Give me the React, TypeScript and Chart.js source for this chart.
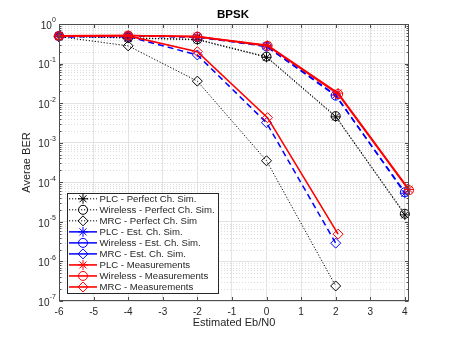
import React, { useEffect, useRef } from 'react';
import { Chart, registerables } from 'chart.js';

Chart.register(...registerables);

// ---- data ----
const snrSim = [-6, -4, -2, 0, 2, 4];
const snrMeas = [-6, -4, -2, 0.03, 2.07, 4.12];
const snrMrcSim = [-6, -4, -2, 0, 2];
const snrMrcMeas = [-6, -4, -2, 0.03, 2.07];

const plcPerfect = [0.49, 0.44, 0.4, 0.144, 0.0045, 1.5e-5];
const wirelessPerfect = [0.49, 0.45, 0.41, 0.15, 0.0047, 1.6e-5];
const mrcPerfect = [0.48, 0.28, 0.036, 3.5e-4, 2.4e-7];
const plcEst = [0.5, 0.5, 0.47, 0.28, 0.016, 5.3e-5];
const wirelessEst = [0.5, 0.5, 0.47, 0.27, 0.0155, 5.6e-5];
const mrcEst = [0.47, 0.48, 0.165, 3.2e-3, 2.9e-6];
const plcMeas = [0.5, 0.51, 0.48, 0.29, 0.018, 6.6e-5];
const wirelessMeas = [0.5, 0.51, 0.48, 0.28, 0.017, 6.3e-5];
const mrcMeas = [0.5, 0.5, 0.2, 4.3e-3, 4.9e-6];

const xTickValues = [-6, -5, -4, -3, -2, -1, 0, 1, 2, 3, 4];
const yTickExponents = [0, -1, -2, -3, -4, -5, -6, -7];

const labels = [
  'PLC - Perfect Ch. Sim.',
  'Wireless - Perfect Ch. Sim.',
  'MRC - Perfect Ch. Sim',
  'PLC - Est. Ch. Sim.',
  'Wireless - Est. Ch. Sim.',
  'MRC - Est. Ch. Sim.',
  'PLC - Measurements',
  'Wireless - Measurements',
  'MRC - Measurements',
];

const FONT = '"Liberation Sans", Arial, Helvetica, sans-serif';
const TEXT = '#262626';

type Style = { color: string; width: number; dash: number[]; marker: string; legendDash: number[] };
const BLACK: Omit<Style, 'marker'> = { color: '#000000', width: 1, dash: [1.2, 1.8], legendDash: [1.2, 1.8] };
const BLUE: Omit<Style, 'marker'> = { color: '#0000ff', width: 1.5, dash: [6, 4], legendDash: [] };
const RED: Omit<Style, 'marker'> = { color: '#ff0000', width: 1.6, dash: [], legendDash: [] };

const styles: Style[] = [
  { ...BLACK, marker: 'star' },
  { ...BLACK, marker: 'circle' },
  { ...BLACK, marker: 'diamond' },
  { ...BLUE, marker: 'star' },
  { ...BLUE, marker: 'circle' },
  { ...BLUE, marker: 'diamond' },
  { ...RED, marker: 'star' },
  { ...RED, marker: 'circle' },
  { ...RED, marker: 'diamond' },
];

const series: { xs: number[]; ys: number[]; order: number }[] = [
  { xs: snrSim, ys: plcPerfect, order: 2 },
  { xs: snrSim, ys: wirelessPerfect, order: 2 },
  { xs: snrMrcSim, ys: mrcPerfect, order: 2 },
  { xs: snrSim, ys: plcEst, order: 1 },
  { xs: snrSim, ys: wirelessEst, order: 1 },
  { xs: snrMrcSim, ys: mrcEst, order: 1 },
  { xs: snrMeas, ys: plcMeas, order: 0 },
  { xs: snrMeas, ys: wirelessMeas, order: 0 },
  { xs: snrMrcMeas, ys: mrcMeas, order: 0 },
];

const chartPointStyle = (m: string) => (m === 'diamond' ? 'rectRot' : m);
const markerRadius = (m: string) => (m === 'star' ? 5 : m === 'circle' ? 4.5 : 5);

function drawMarker(ctx: CanvasRenderingContext2D, m: string, x: number, y: number, color: string) {
  const r = markerRadius(m);
  ctx.save();
  ctx.setLineDash([]);
  ctx.strokeStyle = color;
  ctx.lineWidth = 1;
  ctx.beginPath();
  if (m === 'circle') {
    ctx.arc(x, y, r, 0, Math.PI * 2);
  } else if (m === 'diamond') {
    ctx.moveTo(x, y - r);
    ctx.lineTo(x + r, y);
    ctx.lineTo(x, y + r);
    ctx.lineTo(x - r, y);
    ctx.closePath();
  } else {
    for (let i = 0; i < 4; i++) {
      const a = (i * Math.PI) / 4;
      ctx.moveTo(x - r * Math.cos(a), y - r * Math.sin(a));
      ctx.lineTo(x + r * Math.cos(a), y + r * Math.sin(a));
    }
  }
  ctx.stroke();
  ctx.restore();
}

const decorPlugin = {
  id: 'decor',
  beforeDatasetsDraw(chart: any) {
    const { ctx, chartArea: a, scales } = chart;
    const y = scales.y;
    ctx.save();
    ctx.strokeStyle = '#dcdcdc';
    ctx.lineWidth = 1;
    ctx.setLineDash([1, 2]);
    for (let k = -7; k < 0; k++) {
      for (let m = 2; m <= 9; m++) {
        const py = Math.round(y.getPixelForValue(m * Math.pow(10, k))) + 0.5;
        ctx.beginPath();
        ctx.moveTo(a.left, py);
        ctx.lineTo(a.right, py);
        ctx.stroke();
      }
    }
    ctx.restore();
  },
  afterDatasetsDraw(chart: any) {
    const { ctx, chartArea: a, scales } = chart;
    const x = scales.x;
    const y = scales.y;
    ctx.save();
    // box
    ctx.strokeStyle = '#4d4d4d';
    ctx.lineWidth = 1;
    ctx.setLineDash([]);
    const L = Math.round(a.left) + 0.5;
    const R = Math.round(a.right) - 0.5;
    const T = Math.round(a.top) + 0.5;
    const B = Math.round(a.bottom) - 0.5;
    ctx.strokeRect(L, T, R - L, B - T);
    // tick marks
    ctx.beginPath();
    for (const v of xTickValues) {
      const px = Math.round(x.getPixelForValue(v)) + 0.5;
      ctx.moveTo(px, B);
      ctx.lineTo(px, B - 3.5);
      ctx.moveTo(px, T);
      ctx.lineTo(px, T + 3.5);
    }
    for (const e of yTickExponents) {
      const py = Math.round(y.getPixelForValue(Math.pow(10, e))) + 0.5;
      ctx.moveTo(L, py);
      ctx.lineTo(L + 3.5, py);
      ctx.moveTo(R, py);
      ctx.lineTo(R - 3.5, py);
    }
    for (let k = -7; k < 0; k++) {
      for (let m = 2; m <= 9; m++) {
        const py = Math.round(y.getPixelForValue(m * Math.pow(10, k))) + 0.5;
        ctx.moveTo(L, py);
        ctx.lineTo(L + 2, py);
        ctx.moveTo(R, py);
        ctx.lineTo(R - 2, py);
      }
    }
    ctx.stroke();

    // y tick labels: 10 with raised exponent
    ctx.fillStyle = TEXT;
    ctx.textAlign = 'right';
    ctx.textBaseline = 'middle';
    for (const e of yTickExponents) {
      const py = y.getPixelForValue(Math.pow(10, e));
      const expStr = String(e);
      ctx.font = `7px ${FONT}`;
      const ew = ctx.measureText(expStr).width;
      ctx.fillText(expStr, 56, py - 3.5);
      ctx.font = `10px ${FONT}`;
      ctx.fillText('10', 56 - ew - 0.3, py + 2);
    }

    // legend
    const lx0 = 67.5, ly0 = 193.5, lx1 = 218.5, ly1 = 293.5;
    ctx.fillStyle = '#ffffff';
    ctx.fillRect(lx0, ly0, lx1 - lx0, ly1 - ly0);
    ctx.strokeStyle = '#262626';
    ctx.lineWidth = 1;
    ctx.strokeRect(lx0, ly0, lx1 - lx0, ly1 - ly0);
    ctx.font = `9.6px ${FONT}`;
    ctx.textBaseline = 'middle';
    ctx.textAlign = 'left';
    labels.forEach((lab, i) => {
      const st = styles[i];
      const cy = 198.8 + i * 11.02;
      ctx.save();
      ctx.strokeStyle = st.color;
      ctx.lineWidth = st.width;
      ctx.setLineDash(st.legendDash);
      ctx.beginPath();
      ctx.moveTo(69, cy);
      ctx.lineTo(97, cy);
      ctx.stroke();
      ctx.restore();
      drawMarker(ctx, st.marker, 83, cy, st.color);
      ctx.fillStyle = TEXT;
      ctx.fillText(lab, 99.5, cy + 0.5);
    });

    // titles
    ctx.textAlign = 'center';
    ctx.textBaseline = 'middle';
    const cx = (a.left + a.right) / 2;
    ctx.font = `bold 11.5px ${FONT}`;
    ctx.fillStyle = '#000000';
    ctx.fillText('BPSK', cx - 1, 14.5);
    ctx.fillStyle = TEXT;
    ctx.font = `11px ${FONT}`;
    ctx.fillText('Estimated Eb/N0', cx, 322.5);
    ctx.save();
    ctx.translate(26.5, (a.top + a.bottom) / 2);
    ctx.rotate(-Math.PI / 2);
    ctx.fillText('Averae BER', 0, 0);
    ctx.restore();
    ctx.restore();
  },
};

export default function App() {
  const ref = useRef<HTMLCanvasElement | null>(null);
  useEffect(() => {
    document.body.style.margin = '0';
    const canvas = ref.current;
    if (!canvas) return;
    const datasets = series.map((s, i) => {
      const st = styles[i];
      return {
        label: labels[i],
        data: s.xs.map((xv, j) => ({ x: xv, y: s.ys[j] })),
        borderColor: st.color,
        backgroundColor: 'transparent',
        borderWidth: st.width,
        borderDash: st.dash,
        pointStyle: chartPointStyle(st.marker),
        pointRadius: markerRadius(st.marker),
        pointHoverRadius: markerRadius(st.marker),
        pointBorderColor: st.color,
        pointBackgroundColor: 'transparent',
        pointBorderWidth: 1,
        tension: 0,
        fill: false,
        order: s.order,
        clip: false as any,
      };
    });
    const chart = new Chart(canvas, {
      type: 'line',
      data: { datasets },
      plugins: [decorPlugin],
      options: {
        animation: false,
        responsive: false,
        maintainAspectRatio: false,
        devicePixelRatio: 1,
        events: [],
        layout: { padding: { left: 0, right: 43, top: 24, bottom: 0 } },
        plugins: {
          legend: { display: false },
          title: { display: false },
          tooltip: { enabled: false },
        },
        scales: {
          x: {
            type: 'linear',
            min: -6,
            max: 4.12,
            afterBuildTicks: (scale: any) => {
              scale.ticks = xTickValues.map((v) => ({ value: v }));
            },
            afterFit: (scale: any) => {
              scale.height = 38;
            },
            grid: { color: '#e3e3e3', lineWidth: 1, drawTicks: false },
            border: { display: false },
            ticks: {
              autoSkip: false,
              maxRotation: 0,
              padding: 5,
              color: TEXT,
              font: { family: FONT, size: 10 },
              callback: (v: any) => String(v),
            },
          },
          y: {
            type: 'logarithmic',
            min: 1e-7,
            max: 1,
            afterBuildTicks: (scale: any) => {
              scale.ticks = yTickExponents.map((e) => ({ value: Math.pow(10, e) }));
            },
            afterFit: (scale: any) => {
              scale.width = 59;
            },
            grid: { color: '#e3e3e3', lineWidth: 1, drawTicks: false },
            border: { display: false },
            ticks: { display: false },
          },
        },
      } as any,
    });
    return () => chart.destroy();
  }, []);
  return (
    <div style={{ width: 452, height: 339 }}>
      <canvas ref={ref} width={452} height={339} style={{ display: 'block', width: 452, height: 339 }} />
    </div>
  );
}
